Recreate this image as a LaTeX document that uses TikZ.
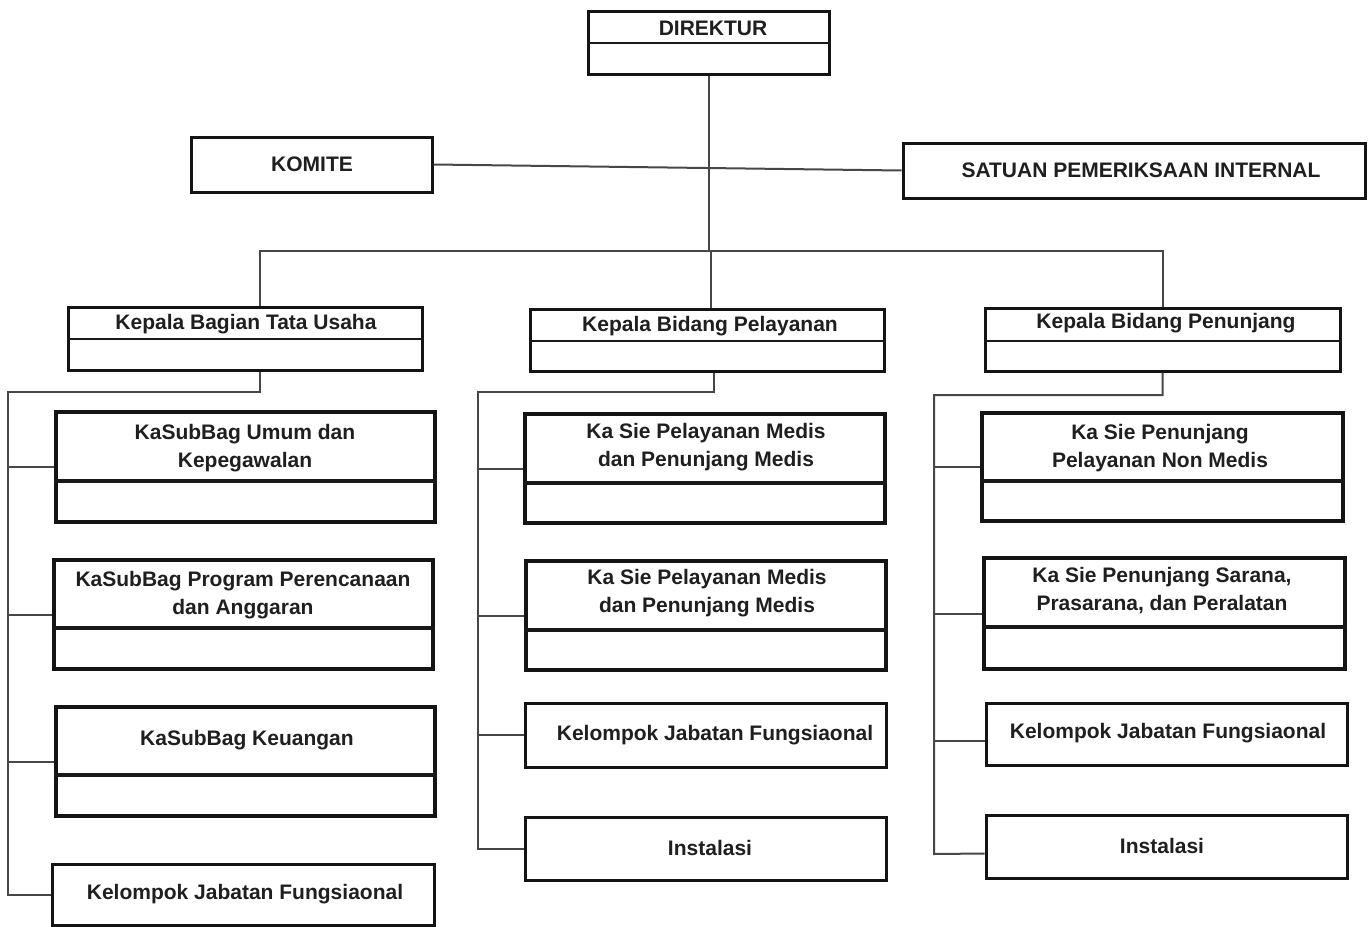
\documentclass[tikz,border=0pt]{standalone}
\usepackage{fontspec}
\setmainfont{Liberation Sans}
\usetikzlibrary{fit}
\begin{document}
\begin{tikzpicture}[x=1pt,y=-1pt,
  frame/.style={draw=black!92, line width=3pt, inner sep=0pt},
  bigframe/.style={frame, line width=3.8pt},
  lbl/.style={font={\fontsize{21}{28}\selectfont\bfseries}, text=black!88, align=center, inner sep=0pt},
  wire/.style={draw=black!72, line width=2pt},
  divider/.style={draw=black!90, line width=3.4pt}]
\useasboundingbox (0,0) rectangle (1370,926);

% top level
\node[frame, fit={(588,11) (829,74)}] (dir) {};
\draw[divider, line width=2.6pt] (dir.west |- 0,43) -- (dir.east |- 0,43);
\node[lbl] (dirt) at (713,28) {DIREKTUR};

\node[frame, fit={(191,137) (432,192)}] (kom) {};
\node[lbl] (komt) at (312,164) {KOMITE};
\node[frame, fit={(903,143) (1365,198)}] (spi) {};
\node[lbl] (spit) at (1141,170) {SATUAN PEMERIKSAAN INTERNAL};
\draw[wire] (kom.east) -- (spi.west);

% level 2
\node[frame, fit={(68,307) (422,370)}] (tu) {};
\draw[divider, line width=2.6pt] (tu.west |- 0,339) -- (tu.east |- 0,339);
\node[lbl] (tut) at (246,324) {Kepala Bagian Tata Usaha};

\node[frame, fit={(530,309) (884,371)}] (pl) {};
\draw[divider, line width=2.6pt] (pl.west |- 0,341) -- (pl.east |- 0,341);
\node[lbl] (plt) at (710,326) {Kepala Bidang Pelayanan};

\node[frame, fit={(985,308) (1340,371)}] (pn) {};
\draw[divider, line width=2.6pt] (pn.west |- 0,341) -- (pn.east |- 0,341);
\node[lbl] (pnt) at (1166,323) {Kepala Bidang Penunjang};

\coordinate (bus) at (711,251);
\draw[wire] (dir.south) -- (dir.south |- bus);
\draw[wire] ([xshift=15pt]tu.north) |- (pn.north |- bus) -- (pn.north);
\draw[wire] ([xshift=4pt]pl.north) -- ([xshift=4pt]pl.north |- bus);

% left column
\node[bigframe, fit={(56,412) (435,522)}] (k1) {};
\draw[divider] (k1.west |- 0,481) -- (k1.east |- 0,481);
\node[lbl] (k1t) at (245,448) {KaSubBag Umum dan\\Kepegawalan};

\node[bigframe, fit={(54,560) (433,669)}] (k2) {};
\draw[divider] (k2.west |- 0,628) -- (k2.east |- 0,628);
\node[lbl] (k2t) at (243,595) {KaSubBag Program Perencanaan\\dan Anggaran};

\node[bigframe, fit={(56,707) (435,816)}] (k3) {};
\draw[divider] (k3.west |- 0,775) -- (k3.east |- 0,775);
\node[lbl] (k3t) at (247,740) {KaSubBag Keuangan};

\node[frame, fit={(52,864) (434,925)}] (k4) {};
\node[lbl] (k4t) at (245,894) {Kelompok Jabatan Fungsiaonal};

\coordinate (lsp) at (8,392);
\draw[wire] ([xshift=15pt]tu.south) |- (lsp) -- (lsp |- k4.west) -- (k4.west);
\draw[wire] (k1.west) -- (k1.west -| lsp);
\draw[wire] (k2.west) -- (k2.west -| lsp);
\draw[wire] (k3.west) -- (k3.west -| lsp);

% middle column
\node[bigframe, fit={(525,414) (885,523)}] (m1) {};
\draw[divider] (m1.west |- 0,483) -- (m1.east |- 0,483);
\node[lbl] (m1t) at (706,447) {Ka Sie Pelayanan Medis\\dan Penunjang Medis};

\node[bigframe, fit={(526,561) (886,670)}] (m2) {};
\draw[divider] (m2.west |- 0,630) -- (m2.east |- 0,630);
\node[lbl] (m2t) at (707,593) {Ka Sie Pelayanan Medis\\dan Penunjang Medis};

\node[frame, fit={(525,703) (886,767)}] (m3) {};
\node[lbl] (m3t) at (715,735) {Kelompok Jabatan Fungsiaonal};

\node[frame, fit={(525,817) (886,880)}] (m4) {};
\node[lbl] (m4t) at (710,848) {Instalasi};

\coordinate (msp) at (478,392);
\draw[wire] ([xshift=7pt]pl.south) |- (msp) -- (msp |- m4.west) -- (m4.west);
\draw[wire] (m1.west) -- (m1.west -| msp);
\draw[wire] (m2.west) -- (m2.west -| msp);
\draw[wire] (m3.west) -- (m3.west -| msp);

% right column
\node[bigframe, fit={(982,413) (1343,521)}] (r1) {};
\draw[divider] (r1.west |- 0,481) -- (r1.east |- 0,481);
\node[lbl] (r1t) at (1160,448) {Ka Sie Penunjang\\Pelayanan Non Medis};

\node[bigframe, fit={(984,558) (1345,669)}] (r2) {};
\draw[divider] (r2.west |- 0,627) -- (r2.east |- 0,627);
\node[lbl] (r2t) at (1162,591) {Ka Sie Penunjang Sarana,\\Prasarana, dan Peralatan};

\node[frame, fit={(986,703) (1347,765)}] (r3) {};
\node[lbl] (r3t) at (1168,733) {Kelompok Jabatan Fungsiaonal};

\node[frame, fit={(986,815) (1347,878)}] (r4) {};
\node[lbl] (r4t) at (1162,846) {Instalasi};

\coordinate (rsp) at (934,395);
\draw[wire] (pn.south) |- (rsp) -- (rsp |- 0,854) -- ([yshift=-7pt]r4.west);
\draw[wire] (r1.west) -- (r1.west -| rsp);
\draw[wire] (r2.west) -- (r2.west -| rsp);
\draw[wire] ([yshift=-7pt]r3.west) -- ([yshift=-7pt]r3.west -| rsp);
\end{tikzpicture}
\end{document}
